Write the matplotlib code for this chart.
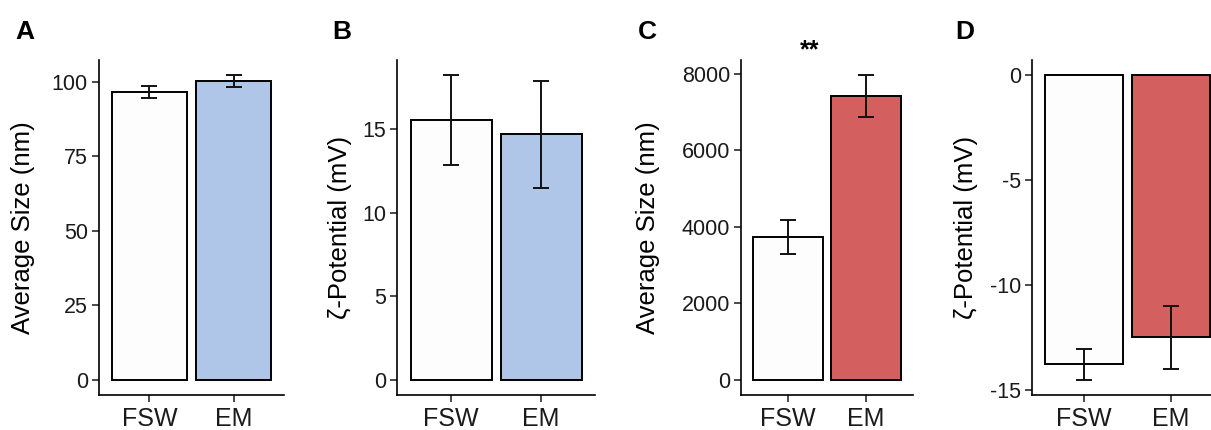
import numpy as np
import matplotlib
matplotlib.use("Agg")
import matplotlib.pyplot as plt

plt.rcParams['font.family'] = ['Liberation Sans', 'DejaVu Sans']

# Data
groups = ["FSW", "EM"]

size_a = [96.5, 100.2]
size_a_err = [2.0, 2.0]

zeta_b = [15.55, 14.7]
zeta_b_err = [2.7, 3.2]

size_c = [3730, 7420]
size_c_err = [440, 540]

zeta_d = [-13.8, -12.5]
zeta_d_err = [0.73, 1.5]

blue = "#AFC6E9"
red = "#D35F5F"
white = "#FDFDFD"

panels = [
    dict(letter="A", vals=size_a, err=size_a_err, colors=[white, blue],
         ylabel="Average Size (nm)", ticks=[0, 25, 50, 75, 100],
         rect=[99, 185], label_x=35, letter_x=15),
    dict(letter="B", vals=zeta_b, err=zeta_b_err, colors=[white, blue],
         ylabel="ζ-Potential (mV)", ticks=[0, 5, 10, 15],
         rect=[397, 198], label_x=352, letter_x=332),
    dict(letter="C", vals=size_c, err=size_c_err, colors=[white, red],
         ylabel="Average Size (nm)", ticks=[0, 2000, 4000, 6000, 8000],
         rect=[741, 172], label_x=660, letter_x=638, star="**"),
    dict(letter="D", vals=zeta_d, err=zeta_d_err, colors=[white, red],
         ylabel="ζ-Potential (mV)", ticks=[-15, -10, -5, 0],
         rect=[1032, 191], label_x=978, letter_x=955),
]

W, H = 1211, 430
fig = plt.figure(figsize=(W / 100, H / 100), dpi=100)

ax_top, ax_bot = 60, 395
for p in panels:
    left, width = p["rect"]
    ax = fig.add_axes([left / W, 1 - ax_bot / H, width / W, (ax_bot - ax_top) / H])
    x = np.arange(1, len(groups) + 1)
    vals = np.array(p["vals"])
    err = np.array(p["err"])
    ax.bar(x, vals, width=0.9, color=p["colors"], edgecolor="black", linewidth=1.4, zorder=2)
    ax.errorbar(x, vals, yerr=err, fmt="none", ecolor="#111111", elinewidth=1.4,
                capsize=6, capthick=1.4, zorder=3)

    # ggplot-style 5% expansion of the data range (bars include 0)
    lo = min(0, (vals - err).min())
    hi = max(0, (vals + err).max())
    pad = 0.05 * (hi - lo)
    ax.set_ylim(lo - pad, hi + pad)
    ax.set_xlim(0.4, 2.6)

    ax.set_xticks(x)
    ax.set_xticklabels(groups, fontsize=18)
    ax.set_yticks(p["ticks"])
    ax.set_yticklabels([str(t) for t in p["ticks"]], fontsize=15.5)
    ax.tick_params(axis="both", direction="out", length=5, width=1.1, colors="#1a1a1a")
    ax.tick_params(axis="x", pad=3.5)
    ax.tick_params(axis="y", pad=3)

    for s in ["top", "right"]:
        ax.spines[s].set_visible(False)
    for s in ["left", "bottom"]:
        ax.spines[s].set_linewidth(1.2)

    ax.set_ylabel(p["ylabel"], fontsize=18.5)
    ax.yaxis.set_label_coords((p["label_x"] - left) / width, 0.5)

    if "star" in p:
        ax.text((810 - left) / width, (ax_bot - 50) / (ax_bot - ax_top), p["star"],
                transform=ax.transAxes, ha="center", va="center",
                fontsize=18, fontweight="bold")

    fig.text(p["letter_x"] / W, 1 - 39 / H, p["letter"], fontsize=19,
             fontweight="bold", ha="left", va="baseline")

fig.savefig("out.png", dpi=100)
